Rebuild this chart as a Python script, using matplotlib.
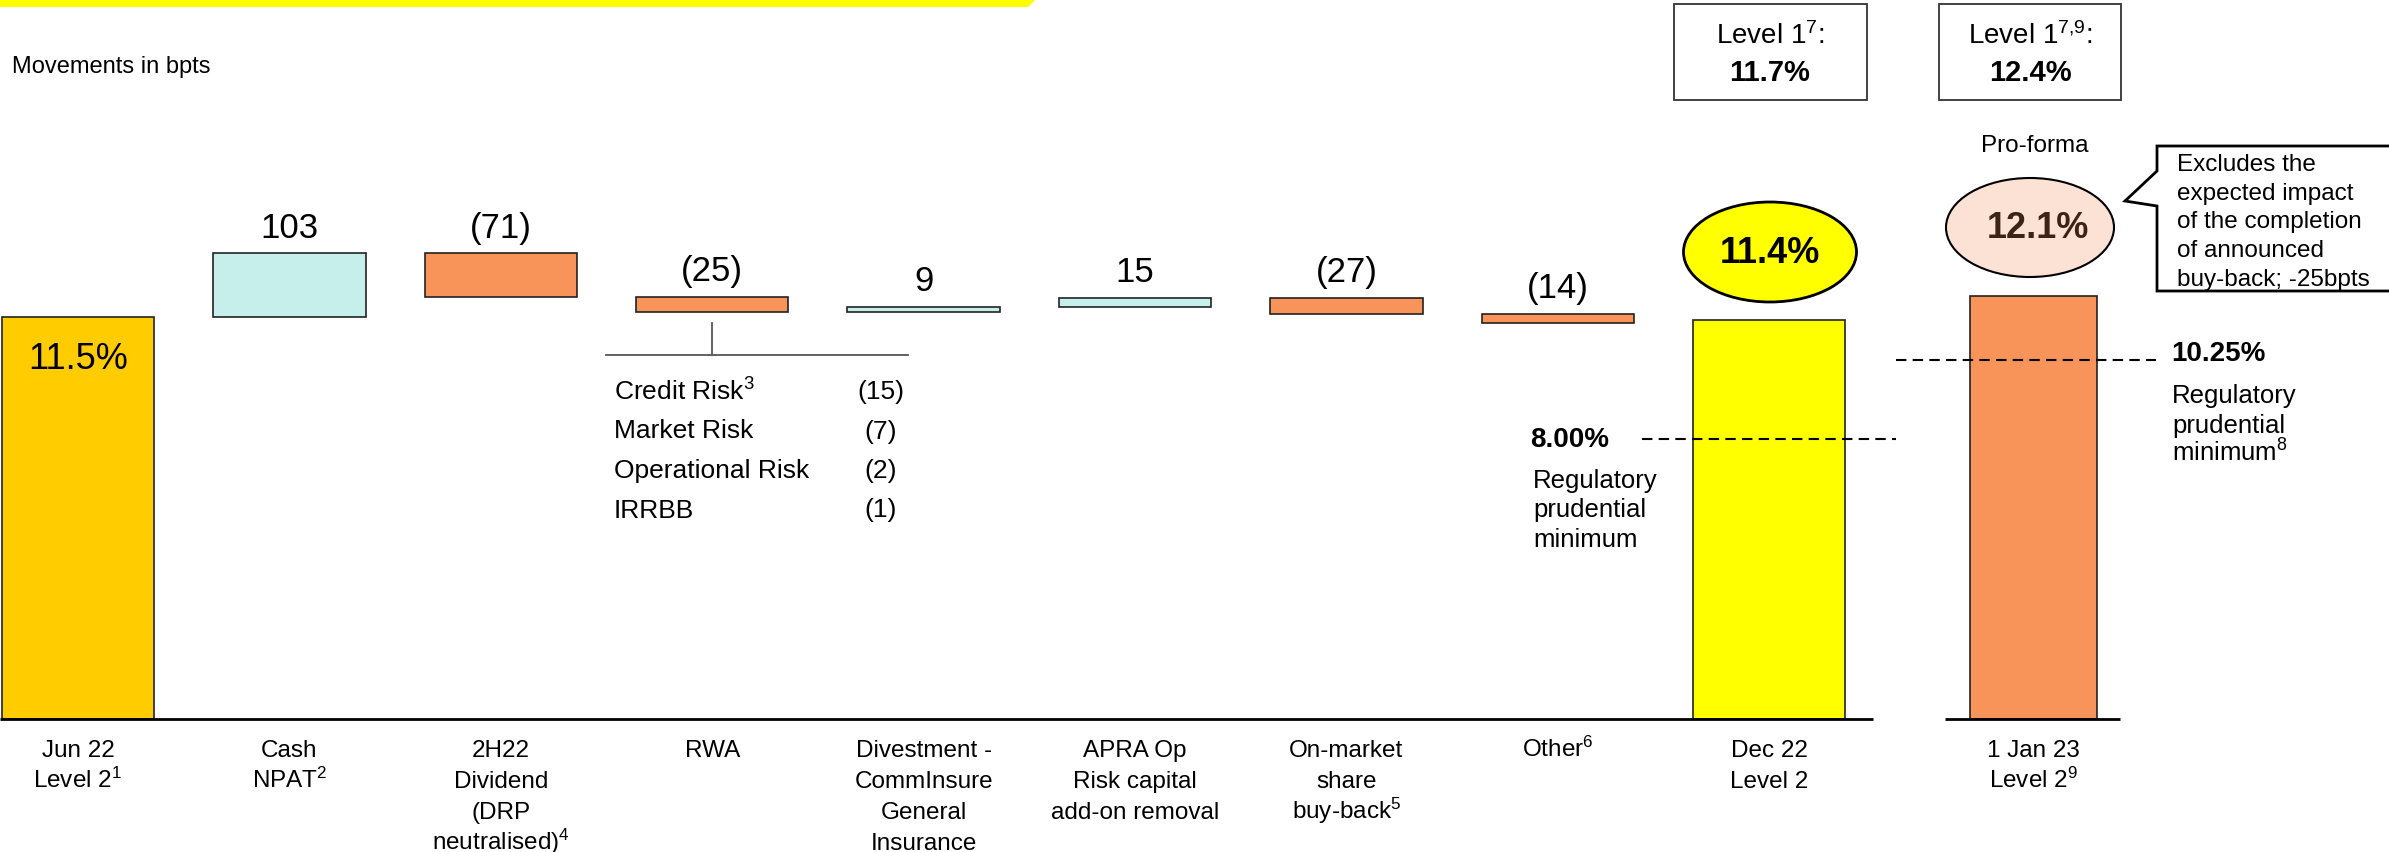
import numpy as np
import matplotlib
matplotlib.use("Agg")
import matplotlib.pyplot as plt
from matplotlib.patches import Ellipse, Rectangle, Polygon

plt.rcParams['font.family'] = ['Liberation Sans', 'DejaVu Sans']
plt.rcParams['mathtext.default'] = 'regular'

# ---- data ----
categories = ['Jun 22\nLevel 2$^1$', 'Cash\nNPAT$^2$',
              '2H22\nDividend\n(DRP\nneutralised)$^4$', 'RWA',
              'Divestment -\nCommInsure\nGeneral\nInsurance',
              'APRA Op\nRisk capital\nadd-on removal',
              'On-market\nshare\nbuy-back$^5$', 'Other$^6$',
              'Dec 22\nLevel 2', '1 Jan 23\nLevel 2$^9$']
start_level = 11.5          # Jun 22 CET1 (%)
movements = [103, -71, -25, 9, 15, -27, -14]   # bpts
move_labels = ['103', '(71)', '(25)', '9', '15', '(27)', '(14)']
dec_level = 11.4
proforma_level = 12.1
level1_dec = '11.7%'
level1_jan = '12.4%'
reg_min_dec = 8.00
reg_min_jan = 10.25
rwa_items = ['Credit Risk$^3$', 'Market Risk', 'Operational Risk', 'IRRBB']
rwa_values = ['(15)', '(7)', '(2)', '(1)']
callout_lines = ['Excludes the', 'expected impact', 'of the completion',
                 'of announced', 'buy-back; -25bpts']

# ---- layout ----
W, H = 2389, 853
PX_X = 211.4      # pixels per category slot
X0 = 78           # pixel centre of first bar
BASE = 720        # pixel row of the baseline
PX_PCT = 35.0     # pixels per 1% of capital
BPT = 0.0175      # drawn size of 1 bpt movement (slide exaggerates the steps)

c_jun = '#FFCC00'
c_pos = '#C6EEEA'
c_neg = '#F8935A'
c_dec = '#FFFF00'
edge = '#222222'

fig = plt.figure(figsize=(W / 100, H / 100), dpi=100)
ax = fig.add_axes([0, 0, 1, 1])
ax.set_xlim(-X0 / PX_X, (W - X0) / PX_X)
ax.set_ylim(-(H - BASE) / PX_PCT, BASE / PX_PCT)
ax.axis('off')

ov = fig.add_axes([0, 0, 1, 1], zorder=3)
ov.set_xlim(0, W)
ov.set_ylim(H, 0)
ov.axis('off')


def lines_at(x, y0, step, lines, **kw):
    # one text per line so superscripts don't stretch the spacing
    for k, s in enumerate(lines):
        ov.text(x, y0 + k * step, s, va='baseline', **kw)


x_pos = np.arange(len(categories), dtype=float)
x_pos[-1] = 9.25

# bars
ax.bar(x_pos[0], start_level, width=0.72, color=c_jun, edgecolor=edge, lw=1.2)
ax.annotate('11.5%', (x_pos[0], start_level), xytext=(0, -30), textcoords='offset points',
            ha='center', va='center', fontsize=26)
level = start_level
for i, m in enumerate(movements):
    d = m * BPT
    ax.bar(x_pos[i + 1], d, bottom=level, width=0.72,
           color=c_pos if m > 0 else c_neg, edgecolor=edge, lw=1.2)
    top = max(level, level + d)
    ax.annotate(move_labels[i], (x_pos[i + 1], top), xytext=(0, 19),
                textcoords='offset points', ha='center', va='center', fontsize=25)
    level += d
ax.bar(x_pos[8], dec_level, width=0.72, color=c_dec, edgecolor=edge, lw=1.2)
ax.bar(x_pos[9], proforma_level, width=0.6, color=c_neg, edgecolor=edge, lw=1.2)

# baseline
ax.hlines(0, -X0 / PX_X, 8.49, color='black', lw=2)
ax.hlines(0, 8.83, 9.66, color='black', lw=2)

# regulatory minimum lines
ax.hlines(reg_min_dec, 7.40, 8.60, color='black', lw=1.5, linestyles=(0, (5, 3)))
ax.hlines(reg_min_jan, 8.60, 9.83, color='black', lw=1.5, linestyles=(0, (5, 3)))
ax.text(6.87, reg_min_dec, '8.00%', fontsize=20, fontweight='bold', va='center')
ax.text(9.90, reg_min_jan + 0.2, '10.25%', fontsize=20, fontweight='bold', va='center')
lines_at(1533, 488, 29.5, ['Regulatory', 'prudential', 'minimum'], fontsize=18.5)
lines_at(2172, 403, 29.5, ['Regulatory', 'prudential', 'minimum$^8$'], fontsize=18.5)

# category labels
for x, lab in zip(x_pos, categories):
    lines_at(X0 + x * PX_X, 757, 31, lab.split('\n'), fontsize=17.5, ha='center')

# top banner and header
ov.add_patch(Polygon([(0, 0), (1036, 0), (1028, 8), (0, 8)], closed=True, color='#FFFF00', lw=0))
ov.text(12, 67, 'Movements in bpts', fontsize=17, va='center')

# RWA breakdown
ov.plot([712, 712], [324, 356], color='#555555', lw=1.3)
ov.plot([606, 908], [356, 356], color='#555555', lw=1.3)
for j, (name, val) in enumerate(zip(rwa_items, rwa_values)):
    y = 392 + 39.5 * j
    ov.text(614, y, name, fontsize=19, va='center')
    ov.text(881, y, val, fontsize=19, va='center', ha='center')

# Level 1 boxes
for (xl, wd, cx, head, val) in [(1674, 193, 1770, 'Level 1$^7$:', level1_dec),
                                (1939, 182, 2030, 'Level 1$^{7{,}9}$:', level1_jan)]:
    ov.add_patch(Rectangle((xl, 5), wd, 96, fill=False, ec='#333333', lw=1.3))
    ov.text(cx, 36, head, fontsize=20, ha='center', va='center')
    ov.text(cx, 73, val, fontsize=21, fontweight='bold', ha='center', va='center')

# ellipses
ov.add_patch(Ellipse((1770, 253), 173, 100, fc='#FFFF00', ec='black', lw=2))
ov.text(1770, 253, '11.4%', fontsize=26, fontweight='bold', ha='center', va='center')
ov.text(2035, 146, 'Pro-forma', fontsize=17.5, ha='center', va='center')
ov.add_patch(Ellipse((2030, 228.5), 168, 99, fc='#FCE1D5', ec='black', lw=1.5))
ov.text(2038, 228, '12.1%', fontsize=26, fontweight='bold', ha='center', va='center', color='#3C2415')

# callout
ov.add_patch(Polygon([(2157, 147), (2420, 147), (2420, 292), (2157, 292),
                      (2157, 207), (2125, 202), (2157, 172)], closed=True,
                     fc='white', ec='black', lw=2))
lines_at(2177, 171, 28.7, callout_lines, fontsize=17.5)

fig.savefig('out.png', dpi=100)
